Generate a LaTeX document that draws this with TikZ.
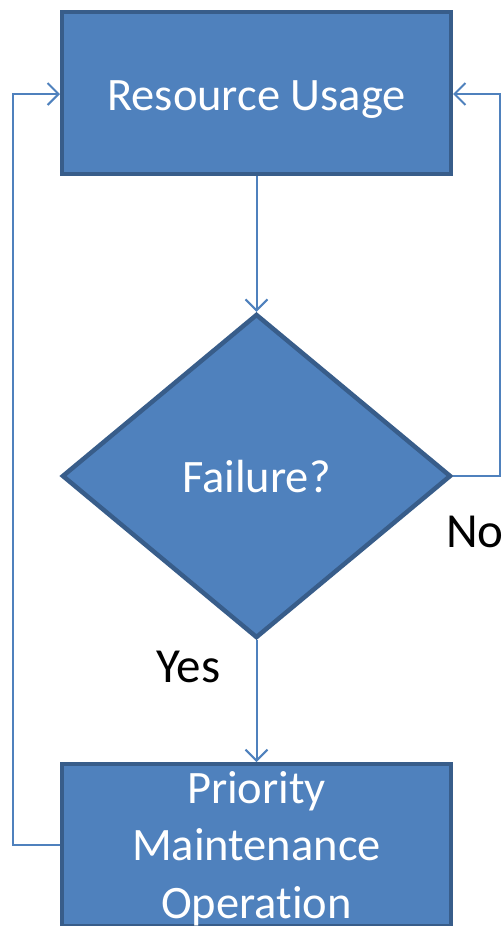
\documentclass[tikz,border=0pt]{standalone}
\usepackage{fontspec}
\setmainfont[Ligatures=NoCommon]{Carlito}
\usetikzlibrary{shapes.geometric,arrows.meta}
\definecolor{boxfill}{HTML}{4F81BD}
\definecolor{boxline}{HTML}{385D8A}
\definecolor{flow}{HTML}{4F81BD}
\tikzset{
  procbox/.style={draw=boxline, fill=boxfill, line width=4pt, rectangle,
    minimum width=389pt, minimum height=162pt, inner sep=0pt,
    text=white, font=\fontsize{46.5}{57.5}\selectfont, align=center},
  decision/.style={draw=boxline, fill=boxfill, line width=4.5pt, diamond,
    minimum width=389pt, minimum height=324pt, inner sep=0pt,
    text=white, font=\fontsize{46.5}{56}\selectfont},
  flowline/.style={draw=flow, line width=2pt,
    -{Straight Barb[length=11pt,width=22pt,line width=2pt]}},
  answer/.style={font=\fontsize{49}{58}\selectfont, text=black,
    inner sep=0pt, anchor=base}
}
\begin{document}
\begin{tikzpicture}[x=1pt,y=-1pt]
  \useasboundingbox (0,0) rectangle (502,926);
  \clip (0,0) rectangle (502,926);

  \node[procbox, text height=34pt, text depth=0pt] (usage) at (256.5,93) {Resource Usage};
  \node[decision, text height=32pt, text depth=0pt] (fail) at (256.5,476) {Failure?};
  \node[procbox, text height=146pt, text depth=0pt] (maint) at (256.5,845)
    {Priority\\Maintenance\\Operation};

  \coordinate (lbot) at (13,845);
  \coordinate (ltop) at (13,94);
  \coordinate (rbot) at (500,476);
  \coordinate (rtop) at (500,94);

  \draw[flowline] (usage.south) -- (fail.north);
  \draw[flowline] (fail.south) -- (maint.north);
  \draw[flowline] (maint.west) -- (lbot) -- (ltop) -- (usage.west |- ltop);
  \draw[flowline] (fail.east) -- (rbot) -- (rtop) -- (usage.east |- rtop);

  \node[answer] (yes) at (188.5,682) {Yes};
  \node[answer, anchor=base west] (no) at (446,547) {No};
\end{tikzpicture}
\end{document}
